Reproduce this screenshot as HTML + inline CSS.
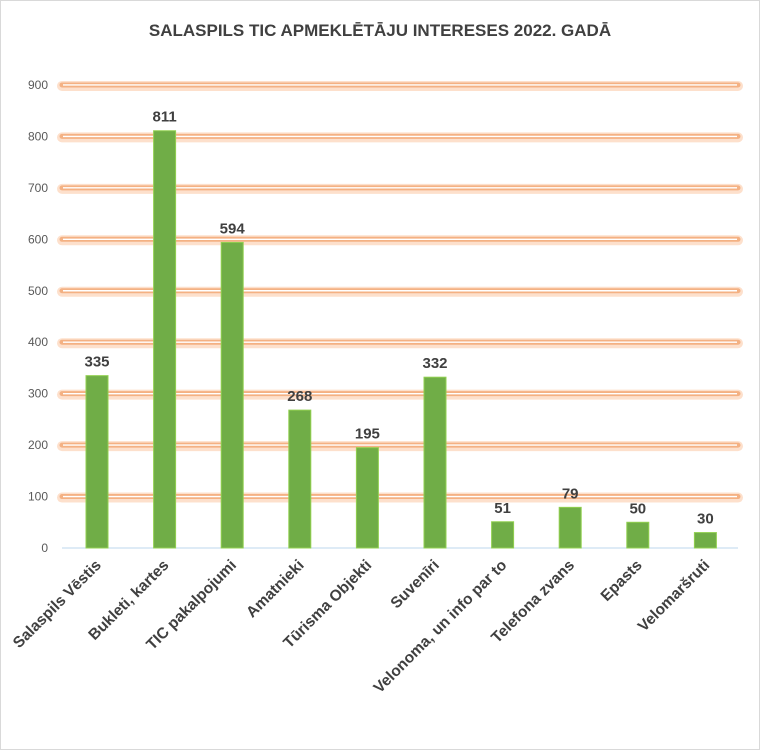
<!DOCTYPE html>
<html><head><meta charset="utf-8"><style>
html,body{margin:0;padding:0;background:#fff;}
svg{display:block;font-family:"Liberation Sans",sans-serif;}
</style></head><body>
<svg width="760" height="750" viewBox="0 0 760 750">
<rect x="0.5" y="0.5" width="759" height="749" fill="#fff" stroke="#d9d9d9"/>
<text x="380" y="36" text-anchor="middle" font-size="17" font-weight="bold" fill="#404040">SALASPILS TIC APMEKLĒTĀJU INTERESES 2022. GADĀ</text>
<script>
(function(){
var ns="http://www.w3.org/2000/svg",svg=document.querySelector('svg');
function el(t,a,txt){var e=document.createElementNS(ns,t);for(var k in a)e.setAttribute(k,a[k]);if(txt!=null)e.textContent=txt;svg.appendChild(e);return e;}
var y0=548,s=51.45/100;
for(var v=100;v<=900;v+=100){var y=y0-v*s;
el('line',{x1:62,x2:738,y1:y+1,y2:y+1,stroke:'#fde0cc','stroke-width':10,'stroke-linecap':'round'});
el('line',{x1:62,x2:738,y1:y,y2:y,stroke:'#f4b183','stroke-width':5,'stroke-linecap':'round'});
el('line',{x1:63,x2:737,y1:y,y2:y,stroke:'#fff','stroke-width':1.4});}
for(var v=0;v<=900;v+=100){el('text',{x:48,y:y0-v*s+4,'text-anchor':'end','font-size':12,fill:'#595959'},v);}
el('line',{x1:62,x2:738,y1:y0,y2:y0,stroke:'#bdd7ee','stroke-width':1});
var d=[["Salaspils Vēstis",335],["Bukleti, kartes",811],["TIC pakalpojumi",594],["Amatnieki",268],["Tūrisma Objekti",195],["Suvenīri",332],["Velonoma, un info par to",51],["Telefona zvans",79],["Epasts",50],["Velomaršruti",30]];
var step=67.6;
d.forEach(function(r,i){var cx=97+i*step,h=r[1]*s;
el('rect',{x:cx-11,y:y0-h,width:22,height:h,fill:'#70ad47',stroke:'#92d050','stroke-width':1});
el('text',{x:cx,y:y0-h-9,'text-anchor':'middle','font-size':15,'font-weight':'bold',fill:'#404040'},r[1]);
el('text',{x:cx+5,y:y0+18,'text-anchor':'end','font-size':15.5,'font-weight':'bold',fill:'#404040',transform:'rotate(-45 '+(cx+5)+' '+(y0+18)+')'},r[0]);
});
})();
</script>
</svg>
</body></html>
